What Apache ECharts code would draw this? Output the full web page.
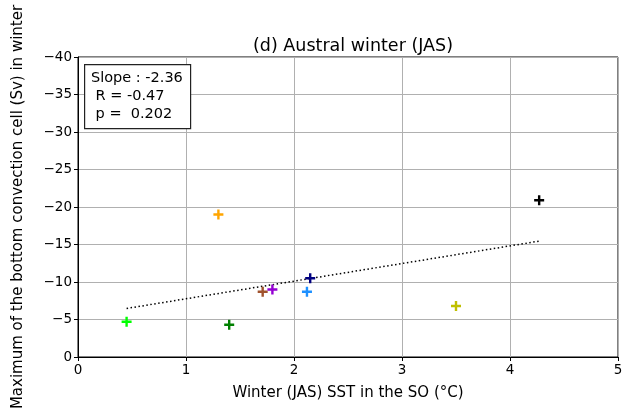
<!DOCTYPE html>
<html><head><meta charset="utf-8">
<script src="https://cdn.jsdelivr.net/npm/echarts@6/dist/echarts.min.js"></script>
<style>html,body{margin:0;padding:0;background:#fff}#c{width:635px;height:416px}</style>
</head><body><div id="c"></div>
<script>
const sstX = [0.45, 1.40, 1.30, 1.71, 1.80, 2.12, 2.15, 3.50, 4.27];
const cellY = [-4.7, -4.3, -19.0, -8.7, -9.0, -8.7, -10.5, -6.8, -20.9];
const colors = ['#00ff00', '#008000', '#ffa500', '#a0522d', '#9400d3', '#1e90ff', '#000080', '#bfbf00', '#000000'];
const regX = [0.45, 4.27];
const regY = [-6.47, -15.45];
const xTicks = [0, 1, 2, 3, 4, 5];
const yTicks = [0, -5, -10, -15, -20, -25, -30, -35, -40];
const statsLines = ['Slope : -2.36', ' R = -0.47', ' p =  0.202'];

const font = 'DejaVu Sans';
const plus = 'path://M3.8,0H6.2V3.8H10V6.2H6.2V10H3.8V6.2H0V3.8H3.8Z';
const fmt = v => (v < 0 ? '\u2212' + Math.abs(v) : String(v));

const chart = echarts.init(document.getElementById('c'), null, {renderer: 'canvas'});
chart.setOption({
  animation: false,
  title: {
    text: '(d) Austral winter (JAS)', left: 348, top: 32, textAlign: 'center',
    textStyle: {fontFamily: font, fontSize: 17.5, fontWeight: 'normal', color: '#000'}
  },
  grid: {left: 78, right: 17, top: 57, bottom: 59, show: true, borderColor: '#000', borderWidth: 1},
  xAxis: {
    type: 'value', min: xTicks[0], max: xTicks[xTicks.length - 1], interval: 1,
    name: 'Winter (JAS) SST in the SO (\u00b0C)', nameLocation: 'middle', nameGap: 29,
    nameTextStyle: {fontFamily: font, fontSize: 15, color: '#000'},
    axisLine: {show: true, onZero: false, lineStyle: {color: '#000'}},
    axisTick: {show: true, length: 4, lineStyle: {color: '#000'}},
    axisLabel: {fontFamily: font, fontSize: 13.5, color: '#000', margin: 6, formatter: fmt},
    splitLine: {show: true, lineStyle: {color: '#b0b0b0', width: 1}}
  },
  yAxis: {
    type: 'value', min: yTicks[yTicks.length - 1], max: yTicks[0], interval: 5, inverse: true,
    name: 'Maximum of the bottom convection cell (Sv) in winter', nameLocation: 'middle', nameGap: 52,
    nameTextStyle: {fontFamily: font, fontSize: 15, color: '#000'},
    axisLine: {show: true, onZero: false, lineStyle: {color: '#000'}},
    axisTick: {show: true, length: 4, lineStyle: {color: '#000'}},
    axisLabel: {fontFamily: font, fontSize: 13.5, color: '#000', margin: 6, formatter: fmt},
    splitLine: {show: true, lineStyle: {color: '#b0b0b0', width: 1}}
  },
  series: [
    {
      type: 'line', data: regX.map((x, i) => [x, regY[i]]), symbol: 'none', z: 2,
      lineStyle: {color: '#000', width: 1.5, type: [1.5, 2.5]}
    },
    {
      type: 'scatter', z: 3,
      data: sstX.map((x, i) => ({value: [x, cellY[i]], itemStyle: {color: colors[i], opacity: 1}})),
      symbol: plus, symbolSize: 10, itemStyle: {opacity: 1}
    }
  ],
  graphic: [
    {type: 'rect', left: 84, top: 64, z: 100, shape: {x: 0, y: 0, width: 106, height: 64},
     style: {fill: '#ffffff', stroke: '#222', lineWidth: 1.2}},
    {type: 'text', left: 91, top: 69, z: 101,
     style: {text: statsLines.join('\n'), font: '14.5px "DejaVu Sans"', fill: '#000', lineHeight: 18}}
  ]
});
</script></body></html>
